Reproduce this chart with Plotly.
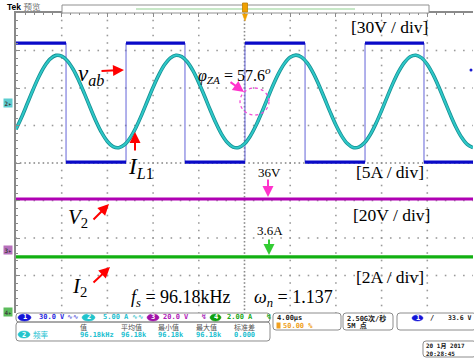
import numpy as np
import plotly.graph_objects as go

# ---------------- data ----------------
# time base: 4 us/div, 10 divisions, trigger at centre (t = 0)
# CH1 v_ab square wave: switching instants (us) and level after each instant (V)
vab_t = [-20.0, -15.62, -10.37, -5.21, 0.04, 5.30, 10.55, 15.71, 20.0]
vab_v = [47.6, -47.6, 47.6, -47.6, 47.6, -47.6, 47.6, -47.6, -47.6]

# CH2 i_L1 samples (A), one reading every 0.5 us from -20 us to +20 us
il1_t = list(np.linspace(-20.0, 20.0, 81))
il1_a = [-3.70, -2.07, -0.24, 1.60, 3.30, 4.70, 5.68, 6.15, 6.06, 5.42,
         4.30, 2.78, 1.02, -0.84, -2.62, -4.16, -5.33, -6.02, -6.16, -5.75,
         -4.82, -3.46, -1.78, 0.06, 1.89, 3.55, 4.89, 5.79, 6.17, 5.99,
         5.27, 4.08, 2.51, 0.73, -1.13, -2.88, -4.38, -5.47, -6.08, -6.13,
         -5.64, -4.63, -3.21, -1.49, 0.35, 2.17, 3.79, 5.07, 5.89, 6.18,
         5.91, 5.11, 3.85, 2.24, 0.43, -1.42, -3.14, -4.58, -5.61, -6.13,
         -6.09, -5.51, -4.43, -2.95, -1.20, 0.65, 2.45, 4.02, 5.23, 5.97,
         6.17, 5.82, 4.94, 3.61, 1.96, 0.13, -1.71, -3.40, -4.78, -5.73,
         -6.16]

# CH3 V2 (V) and CH4 I2 (A): flat DC traces
v2_t = [-20.0, 20.0]
v2_v = [27.2, 27.2]
i2_t = [-20.0, 20.0]
i2_a = [2.93, 2.93]

# channel scales (units/div) and ground positions (div from centre)
ch_scale = {"1": 30.0, "2": 5.0, "3": 20.0, "4": 2.0}
ch_ground = {"1": 1.61, "2": 1.64, "3": -2.32, "4": -3.97}

# graticule: 10 x 4 us horizontally, 8 divisions vertically
x_div_lines = [-16, -12, -8, -4, 4, 8, 12, 16]
y_div_lines = [-3, -2, -1, 1, 2, 3]

# ---------------- geometry helpers ----------------
L, T, R, B = 16, 13, 473, 313
SERIF = "Liberation Serif, Times New Roman, serif"
MONO = "DejaVu Sans Mono, Noto Sans CJK SC, monospace"
CJK = "Noto Sans CJK SC, DejaVu Sans, sans-serif"


def px(x):
    return (x - L) / (R - L)


def py(y):
    return (B - y) / (B - T)


def ch_range(ch):
    s, g = ch_scale[ch], ch_ground[ch]
    return [(-4 - g) * s, (4 - g) * s]


fig = go.Figure()

# graticule dots (drawn first, under the traces)
gx, gy = [], []
ydots = np.arange(-4.0, 4.001, 0.2)
xdots = np.arange(-20.0, 20.001, 0.8)
for xv in x_div_lines:
    gx += [xv] * len(ydots)
    gy += list(ydots)
for yv in y_div_lines:
    gx += list(xdots)
    gy += [yv] * len(xdots)
fig.add_trace(go.Scatter(x=gx, y=gy, mode="markers",
                         marker=dict(symbol="square", size=1.6, color="#9a9a9a",
                                     line=dict(width=0)),
                         hoverinfo="skip"))
cx, cy = [], []
ydense = np.arange(-4.0, 4.001, 0.1)
xdense = np.arange(-20.0, 20.001, 0.4)
cx += [0.0] * len(ydense)
cy += list(ydense)
cx += list(xdense)
cy += [0.0] * len(xdense)
fig.add_trace(go.Scatter(x=cx, y=cy, mode="markers",
                         marker=dict(symbol="square", size=1.6, color="#8a8a8a",
                                     line=dict(width=0)),
                         hoverinfo="skip"))

# CH1 thin edges + thick levels
fig.add_trace(go.Scatter(x=vab_t, y=vab_v, mode="lines", line_shape="hv",
                         line=dict(color="#6464d8", width=1), yaxis="y2",
                         hoverinfo="skip"))
seg_t, seg_v = [], []
for i in range(len(vab_t) - 1):
    seg_t += [vab_t[i], vab_t[i + 1], None]
    seg_v += [vab_v[i], vab_v[i], None]
fig.add_trace(go.Scatter(x=seg_t, y=seg_v, mode="lines",
                         line=dict(color="#0a0ac8", width=3.2), yaxis="y2",
                         hoverinfo="skip"))
# CH2 sinusoidal current
fig.add_trace(go.Scatter(x=il1_t, y=il1_a, mode="lines", line_shape="spline",
                         line=dict(color="#168f92", width=3.6), yaxis="y3",
                         hoverinfo="skip"))
fig.add_trace(go.Scatter(x=il1_t, y=il1_a, mode="lines", line_shape="spline",
                         line=dict(color="#2ec8c8", width=2), yaxis="y3",
                         hoverinfo="skip"))
# CH3, CH4
fig.add_trace(go.Scatter(x=v2_t, y=v2_v, mode="lines",
                         line=dict(color="#b000b4", width=3.2), yaxis="y4",
                         hoverinfo="skip"))
fig.add_trace(go.Scatter(x=i2_t, y=i2_a, mode="lines",
                         line=dict(color="#12b012", width=3.2), yaxis="y5",
                         hoverinfo="skip"))

EDGE = "#8a8a8a"
fig.update_layout(
    width=474, height=358,
    margin=dict(l=L, r=474 - R, t=T, b=358 - B),
    paper_bgcolor="white", plot_bgcolor="white", showlegend=False,
    xaxis=dict(range=[-20, 20], dtick=4, tick0=0, showgrid=False,
               zeroline=False, showline=True, linecolor=EDGE, linewidth=1.5,
               side="top", ticks="inside", ticklen=4, tickcolor=EDGE,
               minor=dict(dtick=0.8, ticks="inside", ticklen=2.5,
                          tickcolor=EDGE),
               showticklabels=False, fixedrange=True),
    yaxis=dict(range=[-4, 4], dtick=1, tick0=0, showgrid=False,
               zeroline=False, showline=True, linecolor=EDGE, linewidth=1.5,
               ticks="inside", ticklen=4, tickcolor=EDGE,
               minor=dict(dtick=0.2, ticks="inside", ticklen=2.5,
                          tickcolor=EDGE),
               showticklabels=False, fixedrange=True),
    yaxis2=dict(overlaying="y", range=ch_range("1"), visible=False),
    yaxis3=dict(overlaying="y", range=ch_range("2"), visible=False),
    yaxis4=dict(overlaying="y", range=ch_range("3"), visible=False),
    yaxis5=dict(overlaying="y", range=ch_range("4"), visible=False),
)

shapes = []
ann = []


def rrect(x0, y0, x1, y1, r=3, color="#8c8c8c", fill=None, width=1):
    p = lambda x, y: f"{px(x):.5f},{py(y):.5f}"
    path = (f"M {p(x0 + r, y0)} L {p(x1 - r, y0)} Q {p(x1, y0)} {p(x1, y0 + r)} "
            f"L {p(x1, y1 - r)} Q {p(x1, y1)} {p(x1 - r, y1)} "
            f"L {p(x0 + r, y1)} Q {p(x0, y1)} {p(x0, y1 - r)} "
            f"L {p(x0, y0 + r)} Q {p(x0, y0)} {p(x0 + r, y0)} Z")
    shapes.append(dict(type="path", xref="paper", yref="paper", path=path,
                       line=dict(color=color, width=width),
                       fillcolor=fill if fill else "rgba(0,0,0,0)",
                       layer="above"))


def badge(x0, x1, y0, y1, label, fill):
    shapes.append(dict(type="circle", xref="paper", yref="paper",
                       x0=px(x0), x1=px(x1), y0=py(y1), y1=py(y0),
                       fillcolor=fill, line=dict(color=fill, width=0.5)))
    ann.append(dict(x=px((x0 + x1) / 2), y=py((y0 + y1) / 2), xref="paper",
                    yref="paper", text=f"<b>{label}</b>", showarrow=False,
                    font=dict(size=7, color="white", family=MONO),
                    xanchor="center", yanchor="middle"))


def txt(x, y, s, size, color="black", family=SERIF, xanchor="left",
        yanchor="middle", **kw):
    d = dict(x=px(x), y=py(y), xref="paper", yref="paper", text=s,
             showarrow=False, xanchor=xanchor, yanchor=yanchor,
             font=dict(size=size, color=color, family=family))
    d.update(kw)
    ann.append(d)


def arrow(hx, hy, tx, ty, color, w=2):
    ann.append(dict(x=px(hx), y=py(hy), xref="paper", yref="paper",
                    ax=tx - hx, ay=ty - hy, axref="pixel", ayref="pixel",
                    showarrow=True, arrowhead=2, arrowsize=1.1, arrowwidth=w,
                    arrowcolor=color, text=""))


# ---- top bar ----
txt(5, 7, "<b>Tek</b> <span style='color:#707070'>预览</span>", 8.5,
    family="Liberation Sans, Noto Sans CJK SC, sans-serif")
shapes.append(dict(type="rect", xref="paper", yref="paper", x0=px(62),
                   x1=px(429), y0=py(13), y1=py(5), fillcolor="white",
                   line=dict(color="#909090", width=1)))
shapes.append(dict(type="line", xref="paper", yref="paper", x0=px(136),
                   x1=px(355), y0=py(9), y1=py(9),
                   line=dict(color="#8fd08f", width=1.2)))
shapes.append(dict(type="rect", xref="paper", yref="paper", x0=px(242.5),
                   x1=px(247.5), y0=py(12), y1=py(3), fillcolor="#f0a000",
                   line=dict(color="#c08000", width=0.8)))
shapes.append(dict(type="path", xref="paper", yref="paper",
                   path=f"M {px(242.5)},{py(14)} L {px(247.5)},{py(14)} L {px(245)},{py(21)} Z",
                   fillcolor="#f0a000", line=dict(color="#f0a000", width=0.5)))

# ---- left ground markers ----
for yy, lab, col in [(103, "2", "#5ccdd0"), (250, "3", "#b870bc"),
                     (312, "4", "#5cbc5c")]:
    txt(3, yy, f"<b>{lab}</b>▸", 6, color="#404040", family=MONO,
        bgcolor=col, borderpad=0.5)

# small ch1 dot at right edge
shapes.append(dict(type="circle", xref="paper", yref="paper", x0=px(469.5),
                   x1=px(472.5), y0=py(71.5), y1=py(68.5), fillcolor="#1a1ad0",
                   line=dict(width=0)))

# ---- scale labels ----
txt(349, 27, "[30V / div]", 17.5)
txt(354, 172, "[5A / div]", 17.5)
txt(351, 215, "[20V / div]", 17.5)
txt(354, 277, "[2A / div]", 17.5)

# ---- signal names and arrows ----
txt(76, 75, "<i>v</i><sub><i>ab</i></sub>", 23)
arrow(124, 70, 100, 71, "#ff0000")
txt(126, 168, "<i>I</i><sub><i>L</i>1</sub>", 23)
arrow(135, 132, 135, 152, "#ff0000")
txt(66, 218, "<i>V</i><sub>2</sub>", 21)
arrow(109, 204, 92, 221, "#ff0000")
txt(70, 287, "<i>I</i><sub>2</sub>", 21)
arrow(110, 267, 92, 284, "#ff0000")

txt(196, 75, "<i>φ</i><sub><i>ZA</i></sub> = 57.6<sup><i>o</i></sup>", 16)
arrow(244, 92, 229, 81, "#ff33cc")
shapes.append(dict(type="circle", xref="paper", yref="paper", x0=px(240),
                   x1=px(269), y0=py(115), y1=py(88),
                   line=dict(color="#f050d8", width=1.3, dash="dot")))

txt(256, 172, "36V", 13)
arrow(268, 197, 268, 178, "#ff33cc")
txt(255, 230, "3.6A", 13)
arrow(269, 255, 269, 238, "#33cc33")

txt(129, 298, "<i>f</i><sub><i>s</i></sub> = 96.18kHz", 18)
txt(252, 298, "<i>ω</i><sub><i>n</i></sub> = 1.137", 18)

# ---- status bar ----
rrect(16, 313, 270, 322)
rrect(16, 322, 270, 341)
rrect(273, 313, 341, 330)
rrect(343, 313, 393, 330)
rrect(397, 313, 476, 330)
rrect(423, 341, 476, 357)

badge(18, 31, 314, 321, "1", "#1414d8")
txt(37, 317.5, "<b>30.0 V</b>", 7, color="#2a2ae0", family=MONO)
txt(65, 317.5, "<b>∿∿</b>", 7, color="#6a6ae0", family="DejaVu Sans")
badge(82, 95, 314, 321, "2", "#22c4cc")
txt(101, 317.5, "<b>5.00 A</b>", 7, color="#20c0d0", family=MONO)
txt(130, 317.5, "<b>∿∿</b>", 7, color="#50c8d0", family="DejaVu Sans")
badge(147, 159, 314, 321, "3", "#a010a8")
txt(161, 317.5, "<b>20.0 V</b>", 7, color="#b020b8", family=MONO)
txt(199, 317.5, "<b>↯</b>", 7, color="#b040c0", family="DejaVu Sans")
badge(210, 221, 314, 321, "4", "#10a010")
txt(225, 317.5, "<b>2.00 A</b>", 7, color="#20a820", family=MONO)
txt(264, 317.5, "<b>↯</b>", 7, color="#30a830", family="DejaVu Sans")

badge(18, 30, 331, 338, "2", "#22c4cc")
txt(31, 334.5, "频率", 7.5, color="#20c0d0", family=CJK)
for xh, head, val in [(78, "值", "96.18kHz"), (119, "平均值", "96.18k"),
                      (156, "最小值", "96.18k"), (194, "最大值", "96.18k"),
                      (232, "标准差", "0.000")]:
    txt(xh, 327, head, 7, color="#505050", family=CJK)
    txt(xh, 335, f"<b>{val}</b>", 7, color="#20c0d0", family=MONO)

txt(275, 318, "<b>4.00µs</b>", 7, color="#202020", family=MONO)
shapes.append(dict(type="rect", xref="paper", yref="paper", x0=px(276.5),
                   x1=px(280.5), y0=py(328.5), y1=py(322.5),
                   fillcolor="#f0a020", line=dict(width=0)))
txt(281, 325.5, "<b>50.00 %</b>", 7, color="#f0a020", family=MONO)
txt(345, 318, "<b>2.50G次/秒</b>", 7, color="#202020", family=MONO)
txt(345, 325.5, "<b>5M 点</b>", 7, color="#202020", family=MONO)
badge(412, 423, 315, 321, "1", "#1414d8")
txt(428, 318, "<b>/</b>", 7, color="#202020", family=MONO)
txt(446, 318, "<b>33.6 V</b>", 6.5, color="#202020", family=MONO)
txt(424, 345.5, "<b>20 1月 2017</b>", 6, color="#202020", family=MONO)
txt(424, 353, "<b>20:28:45</b>", 6, color="#202020", family=MONO)

fig.update_layout(shapes=shapes, annotations=ann)
fig.write_html("out.html")
